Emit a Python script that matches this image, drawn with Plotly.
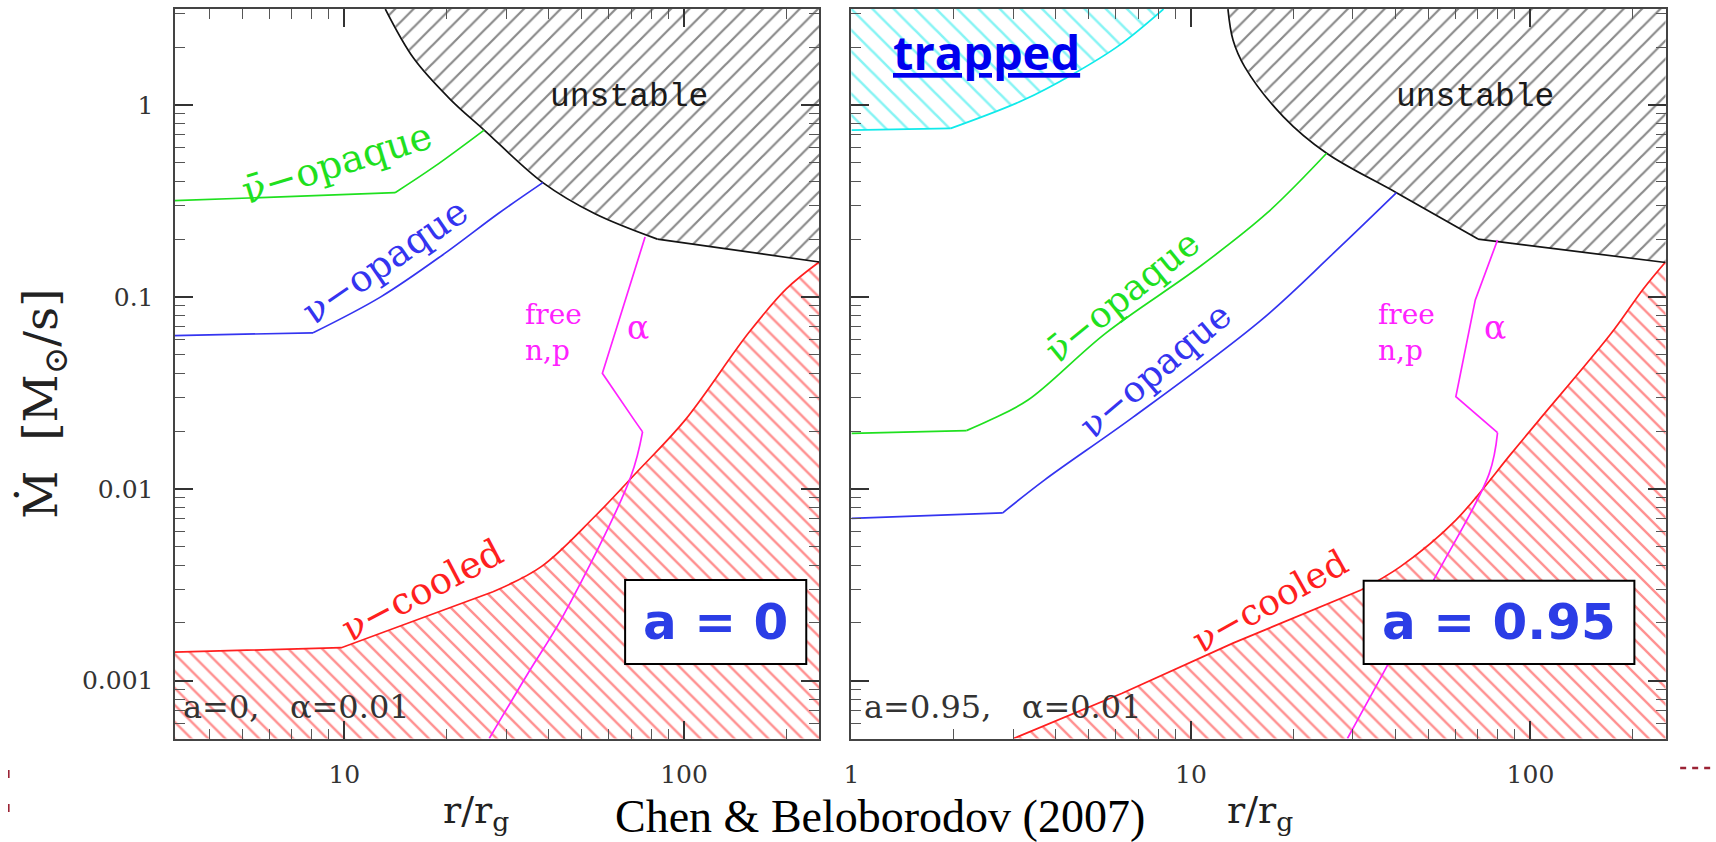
import plotly.graph_objects as go

W, H = 1716, 842

# ---------------- a = 0 panel (r in r_g, Mdot in Msun/s) ----------------
r_unstable_a0 = [13.2, 16.0, 20.5, 25.8, 38.4, 54.5, 83.5, 250]
m_unstable_a0 = [3.16, 1.75, 1.07, 0.74, 0.394, 0.272, 0.20, 0.152]

r_nubar_a0 = [3.0, 14.1, 18.4, 25.8]
m_nubar_a0 = [0.316, 0.349, 0.477, 0.74]

r_nu_a0 = [3.0, 8.09, 12.8, 19.8, 28.4, 38.4]
m_nu_a0 = [0.0627, 0.065, 0.100, 0.169, 0.272, 0.394]

r_alpha_a0 = [76.8, 57.5, 71.4, 75.5, 69.7, 43.9, 34.7, 26.7]
m_alpha_a0 = [0.205, 0.040, 0.0228, 0.0198, 0.01156, 0.00215, 0.00109, 0.0005]

r_cooled_a0 = [3.0, 9.8, 27.4, 38.0, 54.5, 72.8, 100.7, 155, 200, 250]
m_cooled_a0 = [0.001406, 0.001486, 0.00291, 0.00393, 0.00715, 0.01227, 0.0228, 0.065, 0.11, 0.152]

# ---------------- a = 0.95 panel ----------------
r_trapped_a95 = [1.0, 1.96, 3.21, 4.5, 6.16, 8.3]
m_trapped_a95 = [0.74, 0.755, 1.06, 1.45, 2.05, 3.16]

r_unstable_a95 = [12.85, 13.3, 14.4, 18.7, 25.1, 40.3, 70.1, 250]
m_unstable_a95 = [3.16, 2.18, 1.58, 0.87, 0.56, 0.349, 0.20, 0.151]

r_nubar_a95 = [1.0, 2.18, 2.56, 3.31, 5.6, 10.6, 16.7, 25.1]
m_nubar_a95 = [0.01945, 0.0201, 0.0228, 0.029, 0.0646, 0.1435, 0.272, 0.56]

r_nu_a95 = [1.0, 2.79, 3.70, 6.77, 16.1, 26.3, 40.3]
m_nu_a95 = [0.00702, 0.0075, 0.0111, 0.0237, 0.0757, 0.169, 0.349]

r_alpha_a95 = [80, 68.8, 60.3, 72.8, 80, 75.6, 51.9, 28.9]
m_alpha_a95 = [0.198, 0.0964, 0.0302, 0.0228, 0.0196, 0.012, 0.00335, 0.0005]

r_cooled_a95 = [3.0, 6.27, 13.3, 31.7, 41.4, 60.3, 87.9, 106, 173, 215, 250]
m_cooled_a95 = [0.0005, 0.00086, 0.00157, 0.00297, 0.00393, 0.00687, 0.0153, 0.0228, 0.0646, 0.11, 0.152]

# ---------------- axes ticks ----------------
y_tickvals = [0.001, 0.01, 0.1, 1]
y_ticktext = ["0.001", "0.01", "0.1", "1"]
x_tickvals = [1, 10, 100]
x_ticktext = ["1", "10", "100"]
minor_vals = [k * 10.0 ** e for e in range(-4, 3) for k in range(2, 10)]

SERIF = "DejaVu Serif"
GREEN, BLUE, MAGENTA = "#1fe01f", "#3434f0", "#ff22ff"
RED, CYAN, BLACK = "#ff1f1f", "#10eaea", "#141414"


def px(x):
    return x / W


def py(y):
    return 1 - y / H


fig = go.Figure()


def polyline(xref, yref, r, m, color, pieces):
    # pieces: list of (start, end, shape) index ranges drawn as separate segments
    for a, b, shape in pieces:
        fig.add_trace(go.Scatter(
            x=r[a:b + 1], y=m[a:b + 1], xaxis=xref, yaxis=yref, mode="lines",
            line=dict(color=color, width=1.7, shape=shape, smoothing=1.0 if shape == "spline" else None),
            hoverinfo="skip"))


def hatch(xref, yref, r, m, closing, color, shape, size, solidity):
    # hatched area bounded by the curve (r, m) and the plot frame
    xs = list(r) + [c[0] for c in closing]
    ys = list(m) + [c[1] for c in closing]
    fig.add_trace(go.Scatter(
        x=xs, y=ys, xaxis=xref, yaxis=yref, mode="lines", fill="toself",
        line=dict(width=0, color=color), fillcolor="rgba(0,0,0,0)",
        fillpattern=dict(shape=shape, fgcolor=color, bgcolor="rgba(0,0,0,0)",
                         size=size, solidity=solidity),
        hoverinfo="skip"))


L, S = "linear", "spline"

# a = 0 panel
hatch("x", "y", r_cooled_a0, m_cooled_a0,
      [(400, m_cooled_a0[-1]), (400, 1e-4), (r_cooled_a0[0], 1e-4)], RED, "\\", 12, 0.2)
polyline("x", "y", r_cooled_a0, m_cooled_a0, RED, [(0, 2, L), (2, 9, S)])
hatch("x", "y", r_unstable_a0, m_unstable_a0,
      [(400, m_unstable_a0[-1]), (400, 10), (r_unstable_a0[0], 10)], BLACK, "/", 13, 0.17)
polyline("x", "y", r_unstable_a0, m_unstable_a0, BLACK, [(0, 6, S), (6, 7, L)])
polyline("x", "y", r_nubar_a0, m_nubar_a0, GREEN, [(0, 1, L), (1, 3, S)])
polyline("x", "y", r_nu_a0, m_nu_a0, BLUE, [(0, 1, L), (1, 5, S)])
polyline("x", "y", r_alpha_a0, m_alpha_a0, MAGENTA, [(0, 3, L), (3, 7, S)])

# a = 0.95 panel
hatch("x2", "y2", r_cooled_a95, m_cooled_a95,
      [(400, m_cooled_a95[-1]), (400, 1e-4), (r_cooled_a95[0], 1e-4)], RED, "\\", 12, 0.2)
polyline("x2", "y2", r_cooled_a95, m_cooled_a95, RED, [(0, 3, L), (3, 10, S)])
hatch("x2", "y2", r_unstable_a95, m_unstable_a95,
      [(400, m_unstable_a95[-1]), (400, 10), (r_unstable_a95[0], 10)], BLACK, "/", 13, 0.17)
polyline("x2", "y2", r_unstable_a95, m_unstable_a95, BLACK, [(0, 6, S), (6, 7, L)])
hatch("x2", "y2", r_trapped_a95, m_trapped_a95,
      [(r_trapped_a95[-1], 10), (0.5, 10), (0.5, m_trapped_a95[0])], CYAN, "\\", 15, 0.17)
polyline("x2", "y2", r_trapped_a95, m_trapped_a95, CYAN, [(0, 1, L), (1, 5, S)])
polyline("x2", "y2", r_nubar_a95, m_nubar_a95, GREEN, [(0, 1, L), (1, 7, S)])
polyline("x2", "y2", r_nu_a95, m_nu_a95, BLUE, [(0, 1, L), (1, 6, S)])
polyline("x2", "y2", r_alpha_a95, m_alpha_a95, MAGENTA, [(0, 4, L), (4, 7, S)])

axis_common = dict(
    type="log", showgrid=False, zeroline=False, showline=True, linecolor="#444",
    linewidth=2, mirror="allticks", ticks="inside", ticklen=18, tickwidth=1.5,
    tickcolor="#333", tickfont=dict(family=SERIF, size=25, color="#333"),
    minor=dict(ticks="inside", ticklen=10, tickwidth=1.3, tickcolor="#555",
               tickmode="array", tickvals=minor_vals, showgrid=False),
    tickmode="array",
)

ydom = [py(738.5), py(9)]
fig.update_layout(
    width=W, height=H, margin=dict(l=0, r=0, t=0, b=0),
    paper_bgcolor="white", plot_bgcolor="white", showlegend=False,
    xaxis=dict(axis_common, domain=[px(167.3), px(815)], range=[0.5, 2.398], anchor="y",
               tickvals=x_tickvals, ticktext=x_ticktext, ticklabelstandoff=12),
    yaxis=dict(axis_common, domain=ydom, range=[-3.301, 0.5], anchor="x",
               tickvals=y_tickvals, ticktext=y_ticktext, ticklabelstandoff=14),
    xaxis2=dict(axis_common, domain=[px(847.3), px(1665.3)], range=[-0.0005, 2.398], anchor="y2",
                tickvals=x_tickvals, ticktext=x_ticktext, ticklabelstandoff=12),
    yaxis2=dict(axis_common, domain=ydom, range=[-3.301, 0.5], anchor="x2",
                tickvals=y_tickvals, ticktext=y_ticktext, showticklabels=False),
)

ann = []


def label(text, x, y, color="#222", size=30, family=SERIF, angle=0, xanchor="center", align="center"):
    ann.append(dict(text=text, x=px(x), y=py(y), xref="paper", yref="paper",
                    showarrow=False, textangle=angle, xanchor=xanchor, yanchor="middle",
                    align=align, font=dict(family=family, size=size, color=color)))


MONO = "Liberation Mono"

# a = 0 panel labels
label("unstable", 624, 97, "#1a1a1a", 33, family=MONO)
label("ν\u0304\u2212opaque", 331, 163, GREEN, 38, angle=-17)
label("ν\u2212opaque", 379, 262, BLUE, 37, angle=-34.5)
label("free<br>n,p", 517, 332, MAGENTA, 28, xanchor="left", align="left")
label("α", 633, 328, MAGENTA, 33)
label("ν\u2212cooled", 416, 590, RED, 37, angle=-27.8)
label("a=0,   α=0.01", 174, 707, "#333", 32, xanchor="left")

# a = 0.95 panel labels
label("unstable", 1474, 97, "#1a1a1a", 33, family=MONO)
label("<b><u>trapped</u></b>", 983, 52, "#0000ee", 47, family="Open Sans")
label("ν\u0304\u2212opaque", 1119, 296, GREEN, 36, angle=-39)
label("ν\u2212opaque", 1152, 370, BLUE, 36, angle=-40.5)
label("free<br>n,p", 1374, 332, MAGENTA, 28, xanchor="left", align="left")
label("α", 1494, 328, MAGENTA, 33)
label("ν\u2212cooled", 1267, 601, RED, 36, angle=-29.3)
label("a=0.95,   α=0.01", 858, 707, "#333", 32, xanchor="left")

# spin boxes and page marks
BOXBLUE = "#2b3de6"
shapes = [
    dict(type="rect", xref="paper", yref="paper", x0=px(620), x1=px(802), y0=py(664), y1=py(580),
         line=dict(color="black", width=2), fillcolor="white", layer="above"),
    dict(type="rect", xref="paper", yref="paper", x0=px(1362), x1=px(1634), y0=py(664), y1=py(580.7),
         line=dict(color="black", width=2), fillcolor="white", layer="above"),
    dict(type="line", xref="paper", yref="paper", x0=px(1680), x1=px(1716), y0=py(768), y1=py(768),
         line=dict(color="#9b2335", width=2.5, dash="6px,6px")),
    dict(type="line", xref="paper", yref="paper", x0=px(0.8), x1=px(0.8), y0=py(770), y1=py(820),
         line=dict(color="#9b2335", width=1.6, dash="8px,26px")),
]
label("<b>a = 0</b>", 711, 622, BOXBLUE, 50, family="DejaVu Sans")
label("<b>a = 0.95</b>", 1498, 622, BOXBLUE, 50, family="DejaVu Sans")

# axis titles and citation
label("Ṁ  [M<sub>⊙</sub>/s]", 36, 404, "#222", 47, angle=-90)
label("r/r<sub>g</sub>", 470, 812, "#222", 38)
label("r/r<sub>g</sub>", 1258, 812, "#222", 38)
label("Chen &amp; Beloborodov (2007)", 876, 816, "black", 46, family="Liberation Serif")

fig.update_layout(annotations=ann, shapes=shapes)
fig.write_html("out.html")
